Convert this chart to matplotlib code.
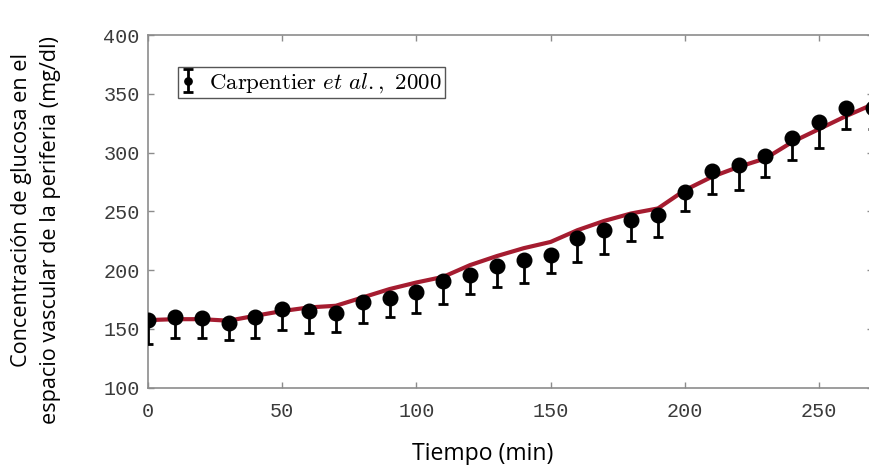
import matplotlib
matplotlib.use("Agg")
import matplotlib.pyplot as plt

# datos experimentales (Carpentier et al., 2000)
t_exp = [0, 10, 20, 30, 40, 50, 60, 70, 80, 90, 100, 110, 120, 130,
         140, 150, 160, 170, 180, 190, 200, 210, 220, 230, 240, 250, 260, 270]
glu_exp = [157.5, 160, 159, 155, 160, 167, 165, 163.5, 173, 176, 181.5, 190.7,
           196, 203.4, 208.8, 212.5, 227, 234, 243, 246.5, 266.6, 284.7,
           289.8, 297.2, 312, 326, 338.3, 337.5]
glu_low = [137, 142, 142, 140.5, 142, 149, 146.5, 147, 155, 160, 163.5, 170.9,
           179.6, 185.6, 189.3, 197.7, 207, 213.9, 225, 228.3, 250.2, 264.9,
           268.3, 279, 293.5, 304.3, 320.4, 320]

# curva del modelo
t_mod = [0, 10, 20, 30, 40, 50, 60, 70, 80, 90, 100, 110, 120, 130, 140,
         150, 160, 170, 180, 190, 200, 210, 220, 230, 240, 250, 260, 270]
glu_mod = [157.5, 158.3, 158.3, 157, 161.2, 165.2, 168.3, 169.7, 176.8, 183.9,
           189.5, 194.3, 204.3, 212, 218.7, 224, 234, 241.9, 248.2, 252.5,
           268, 279.3, 287.8, 295, 309, 320, 331, 341]

ylabel_lines = ['Concentración de glucosa en el',
                'espacio vascular de la periferia (mg/dl)']

plt.rcParams['mathtext.fontset'] = 'cm'

fig = plt.figure(figsize=(8.69, 4.65), dpi=100)
ax = fig.add_axes([0.1703, 0.1662, 0.834, 0.7585])

ax.plot(t_mod, glu_mod, color='#A51C30', linewidth=3, zorder=2)

err_low = [g - l for g, l in zip(glu_exp, glu_low)]
err_up = [0] * len(glu_exp)
ax.errorbar(t_exp, glu_exp, yerr=[err_low, err_up], fmt='o', color='black',
            markersize=10.5, elinewidth=2, capsize=3.5, capthick=2, zorder=3,
            label=r'$\mathrm{Carpentier}\ et\ al.\mathrm{,\ 2000}$')

ax.set_xlim(0, 270)
ax.set_ylim(100, 400)
ax.set_xticks([0, 50, 100, 150, 200, 250])
ax.set_yticks([100, 150, 200, 250, 300, 350, 400])

for s in ax.spines.values():
    s.set_color('#8c8c8c')
    s.set_linewidth(1.2)
ax.tick_params(direction='in', length=4, width=1, color='#8c8c8c',
               top=True, right=True, labelsize=14.5, labelcolor='#3a3a3a')
ax.tick_params(axis='x', pad=10)
ax.tick_params(axis='y', pad=6)
for lab in ax.get_xticklabels() + ax.get_yticklabels():
    lab.set_family('Liberation Mono')

ax.set_xlabel('Tiempo (min)', fontsize=16.6, family='Open Sans')
ax.xaxis.set_label_coords(0.462, -0.154)

# etiqueta del eje y en dos renglones (no centrados entre si)
fig.text(22 / 869, 1 - 210 / 465, ylabel_lines[0], rotation=90, ha='center',
         va='center', fontsize=15.6, family='Open Sans')
fig.text(51 / 869, 1 - 230 / 465, ylabel_lines[1], rotation=90, ha='center',
         va='center', fontsize=15.6, family='Open Sans')

leg = ax.legend(loc='upper left', bbox_to_anchor=(0.041, 0.909), fontsize=16.5,
                fancybox=False, framealpha=1, edgecolor='#555555',
                handlelength=0.6, handletextpad=0.6, borderpad=0.15,
                borderaxespad=0, markerscale=0.5)
leg.get_frame().set_linewidth(1)

fig.savefig('out.png', dpi=100)
